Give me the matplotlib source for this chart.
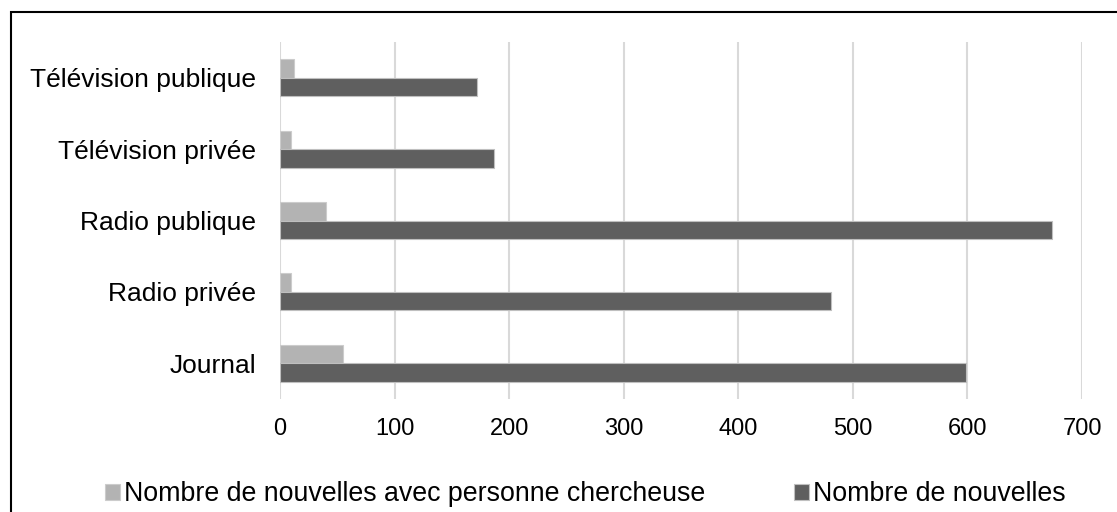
import numpy as np
import matplotlib.pyplot as plt
from matplotlib.patches import Rectangle

plt.rcParams['font.family'] = ['Liberation Sans', 'DejaVu Sans']

categories = ["Télévision publique", "Télévision privée", "Radio publique", "Radio privée", "Journal"]
avec_chercheuse = [12, 10, 40, 10, 55]
nouvelles = [172, 187, 674, 481, 599]
series_names = ["Nombre de nouvelles avec personne chercheuse", "Nombre de nouvelles"]
xticks = [0, 100, 200, 300, 400, 500, 600, 700]

light = "#b3b3b3"
dark = "#5f5f5f"

fig = plt.figure(figsize=(11.17, 5.12), dpi=100)
ax = fig.add_axes([280 / 1117, 1 - 399 / 512, (1082 - 280) / 1117, (399 - 42) / 512])

y = np.arange(len(categories))
h = 0.26
ax.barh(y - h / 2, avec_chercheuse, height=h, color=light, edgecolor="#cccccc",
        linewidth=0.8, label=series_names[0], zorder=3)
ax.barh(y + h / 2, nouvelles, height=h, color=dark, edgecolor="#bfbfbf",
        linewidth=0.8, label=series_names[1], zorder=3)

ax.set_ylim(len(categories) - 0.5, -0.5)
ax.set_xlim(0, 700)
ax.set_xticks(xticks)
ax.set_yticks(y)
ax.set_yticklabels(categories, fontsize=19)
ax.tick_params(axis='x', labelsize=17, length=0, pad=14)
ax.tick_params(axis='y', length=0, pad=17)
ax.grid(axis='x', color="#d9d9d9", linewidth=1.5, zorder=0)
for s in ax.spines.values():
    s.set_visible(False)

fig.legend(loc='center', bbox_to_anchor=(0.524, 0.035), ncol=2, frameon=False,
           fontsize=19.3, handlelength=0.55, handleheight=0.55, handletextpad=0.15,
           columnspacing=3.3, borderaxespad=0)

# outer chart border (only top and left edges fall inside the image)
fig.patches.append(Rectangle((11 / 1117, -0.2), 1.2, (1 - 12 / 512) + 0.2,
                             transform=fig.transFigure, fill=False,
                             edgecolor="black", linewidth=1.5))

fig.savefig("out.png", dpi=100)
